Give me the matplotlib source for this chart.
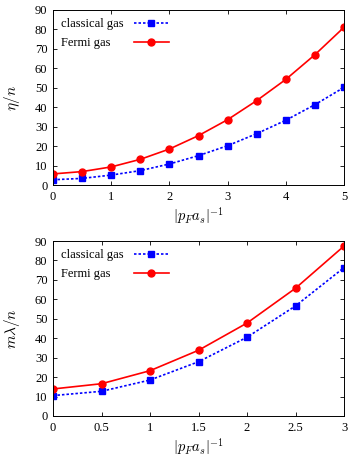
import matplotlib
matplotlib.use("Agg")
import matplotlib.pyplot as plt
from matplotlib.offsetbox import HPacker, VPacker, TextArea

plt.rcParams['font.family'] = ['Liberation Serif', 'DejaVu Serif']
plt.rcParams['mathtext.fontset'] = 'cm'

x_top = [0, 0.5, 1, 1.5, 2, 2.5, 3, 3.5, 4, 4.5, 5]
classical_top = [2.7, 3.4, 5.1, 7.4, 10.8, 15.1, 20.2, 26.4, 33.3, 41.3, 50.2]
fermi_top = [5.7, 6.9, 9.3, 13.2, 18.5, 25.4, 33.6, 43.4, 54.3, 67.0, 81.1]

x_bot = [0, 0.5, 1, 1.5, 2, 2.5, 3]
classical_bot = [10.5, 12.7, 18.5, 27.9, 40.5, 56.6, 76.3]
fermi_bot = [13.9, 16.6, 23.3, 33.8, 47.8, 65.7, 87.4]

xticks_top = [0, 1, 2, 3, 4, 5]
xticklabels_top = ['0', '1', '2', '3', '4', '5']
xticks_bot = [0, 0.5, 1, 1.5, 2, 2.5, 3]
xticklabels_bot = ['0', '0.5', '1', '1.5', '2', '2.5', '3']
yticks = [0, 10, 20, 30, 40, 50, 60, 70, 80, 90]

W, H = 354, 457
fig = plt.figure(figsize=(W/100, H/100), dpi=100)

def add_ax(l, r, t, b):
    return fig.add_axes([l/W, 1 - b/H, (r - l)/W, (b - t)/H])

ax1 = add_ax(53, 344, 10, 185)
ax2 = add_ax(53, 344, 241, 416)

panels = [
    (ax1, x_top, classical_top, fermi_top, xticks_top, xticklabels_top, (0, 5), r'$\eta/n$'),
    (ax2, x_bot, classical_bot, fermi_bot, xticks_bot, xticklabels_bot, (0, 3), r'$m\lambda/n$'),
]

legends = []
for ax, x, c, f, xt, xtl, xl, yl in panels:
    ax.plot(x, c, color='#0000ff', linestyle=(0, (1.5, 1.2)), linewidth=1.2,
            marker='s', markersize=5, label='classical gas')
    ax.plot(x, f, color='#ff0000', linestyle='-', linewidth=1.2,
            marker='o', markersize=5, label='Fermi gas')
    ax.set_xlim(*xl)
    ax.set_ylim(0, 90)
    ax.set_xticks(xt)
    ax.set_xticklabels(xtl)
    ax.set_yticks(yticks)
    ax.tick_params(direction='in', top=True, right=True, labelsize=9,
                   length=3, width=0.6, pad=4)
    for s in ax.spines.values():
        s.set_linewidth(0.7)
    ax.set_xlabel(r'$|p_F a_s|^{-1}$', fontsize=10.5, labelpad=2)
    ax.set_ylabel(yl, fontsize=11, labelpad=9)
    leg = ax.legend(loc='upper left', frameon=False, markerfirst=False, fontsize=9,
                    handlelength=2.8, handletextpad=0.8, borderaxespad=0.25,
                    labelspacing=0.55)
    legends.append(leg)

# left-align legend labels while keeping handles in one column
fig.canvas.draw()
r = fig.canvas.get_renderer()
for leg in legends:
    texts = leg.get_texts()
    widths = {id(t): t.get_window_extent(r).width for t in texts}
    maxw = max(widths.values())
    for hp in leg.findobj(lambda a: isinstance(a, HPacker)):
        ch = hp.get_children()
        if len(ch) == 2 and isinstance(ch[0], TextArea):
            t = ch[0]._text
            hp.sep = hp.sep + (maxw - widths[id(t)]) * 72 / fig.dpi
    for vp in leg.findobj(lambda a: isinstance(a, VPacker)):
        if vp.align == 'right':
            vp.align = 'left'

fig.savefig('out.png', dpi=100)
